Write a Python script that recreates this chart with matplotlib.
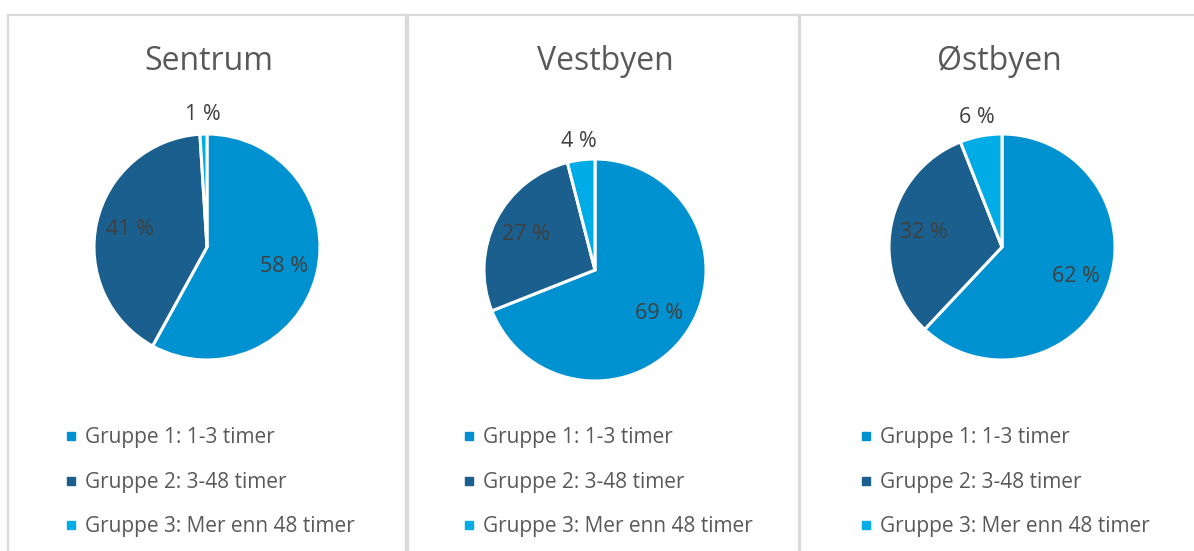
import matplotlib.pyplot as plt
from matplotlib.lines import Line2D
from matplotlib.patches import Rectangle
import numpy as np

plt.rcParams['font.family'] = ['Open Sans', 'DejaVu Sans']

# data
areas = ['Sentrum', 'Vestbyen', 'Østbyen']
groups = ['Gruppe 1: 1-3 timer', 'Gruppe 2: 3-48 timer', 'Gruppe 3: Mer enn 48 timer']
sentrum = [58, 41, 1]
vestbyen = [69, 27, 4]
ostbyen = [62, 32, 6]
shares = [sentrum, vestbyen, ostbyen]

colors = ['#0091D0', '#1A5F8D', '#00ACE6']
W, H = 1194, 551

fig = plt.figure(figsize=(W / 100, H / 100), dpi=100)

# panel frames (pixel boxes: left, right)
panels = [(8, 406), (408, 799), (800, 1200)]
# pie centre x, centre y, radius in pixels
pies = [(207, 247, 113), (595, 270, 111), (1002, 247, 113)]
legend_x = [56, 454, 851]

def px(x, y):
    return x / W, 1 - y / H

for (l, r) in panels:
    fig.add_artist(Rectangle(px(l, 600), (r - l) / W, (600 - 15) / H,
                             transform=fig.transFigure, fill=False,
                             edgecolor='#D9D9D9', linewidth=1.6))

for i, name in enumerate(areas):
    cx, cy, rad = pies[i]
    l, b = px(cx - rad, cy + rad)
    ax = fig.add_axes([l, b, 2 * rad / W, 2 * rad / H])
    wedges, _ = ax.pie(shares[i], colors=colors, startangle=90, counterclock=False,
                       wedgeprops=dict(edgecolor='white', linewidth=2.2))
    ax.set_xlim(-1, 1)
    ax.set_ylim(-1, 1)
    for w, v in zip(wedges, shares[i]):
        ang = np.deg2rad((w.theta1 + w.theta2) / 2)
        d = 0.7 if v >= 10 else 1.17
        ax.text(d * np.cos(ang), d * np.sin(ang), f'{v} %', ha='center', va='center',
                fontsize=15.5, color='#404040')
    fig.text(px((panels[i][0] + min(panels[i][1], 1194)) / 2 + 2, 61)[0], px(0, 61)[1], name,
             ha='center', va='center', fontsize=23, color='#595959')
    handles = [Line2D([], [], marker='s', linestyle='', color=c, markersize=6) for c in colors]
    fig.legend(handles, groups, loc='upper left', bbox_to_anchor=px(legend_x[i], 419),
               frameon=False, fontsize=15, labelcolor='#595959', handlelength=0.6,
               handletextpad=0.4, labelspacing=1.13, borderaxespad=0)

fig.savefig('out.png', dpi=100)
